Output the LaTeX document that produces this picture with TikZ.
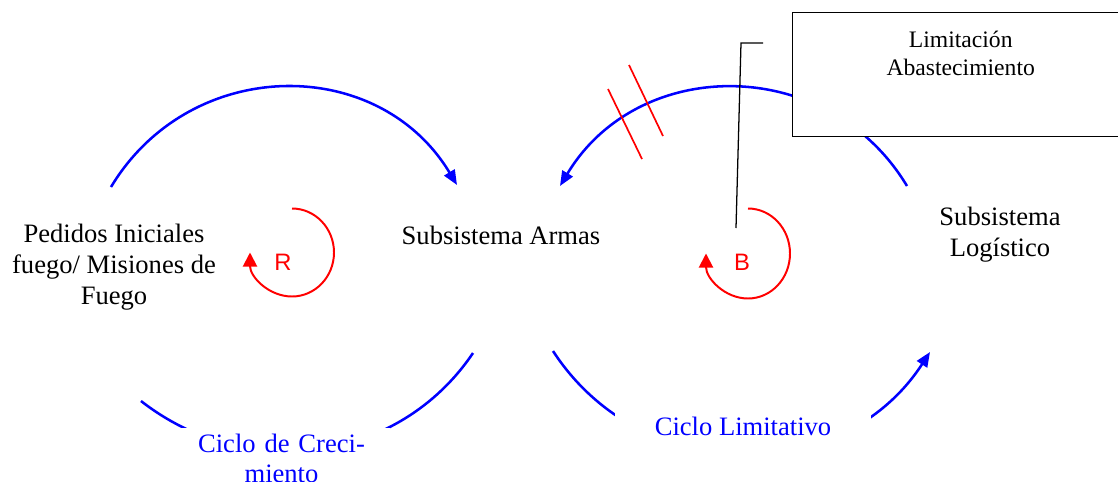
\documentclass[tikz,border=0pt]{standalone}
\usepackage{fontspec}
\setmainfont{Liberation Serif}
\newfontfamily\loopfont{Liberation Sans}
\usepackage{tikz}
\usetikzlibrary{arrows.meta}

\begin{document}
\begin{tikzpicture}[x=0.025cm, y=0.025cm,
    txt/.style={align=center, font=\fontsize{18.9}{22}\selectfont},
    link/.style={draw=blue, line width=1.8pt, -{Triangle[length=10.5pt, width=8.5pt]}},
    plainlink/.style={draw=blue, line width=1.8pt},
    loopline/.style={draw=red, line width=1.4pt, -{Triangle[length=10pt, width=10pt]}},
    looplbl/.style={text=red, font=\loopfont\fontsize{16.9}{20}\selectfont},
    cyclelbl/.style={fill=white, text=blue, font=\fontsize{18.9}{22}\selectfont, inner sep=2pt}]
        \useasboundingbox (0,0) rectangle (1118,-481);
        \node[txt] (ped) at (114,-267) {Pedidos Iniciales\\fuego/ Misiones de\\Fuego};
        \node[txt] (arm) at (501,-235) {Subsistema Armas};
        \node[txt] (log) at (1000,-235) {Subsistema\\Logístico};
        % ends of the links
        \coordinate (pedN) at (111,-187);
        \coordinate (armNW) at (457,-185);
        \coordinate (armNE) at (560,-186);
        \coordinate (logN) at (907,-186);
        \coordinate (armSW) at (473,-353);
        \coordinate (pedS) at (141,-401);
        \coordinate (armSE) at (553,-351);
        \coordinate (logS) at (930,-352);
        \draw[link] (pedN) to[out=59, in=121, looseness=1.13] (armNW);
        \draw[link] (logN) to[out=121, in=59, looseness=1.13] (armNE);
        \draw[plainlink] (armSW) to[out=-124, in=-38, looseness=1.02] (pedS);
        \draw[link] (armSE) to[out=-57, in=-123, looseness=1.1] (logS);
        % delay
        \draw[red, line width=1.2pt] (608,-89) -- (642,-159);
        \draw[red, line width=1.2pt] (629,-65) -- (663,-136);
        % callout
        \coordinate (calA) at (763,-43);
        \coordinate (calB) at (741,-43);
        \coordinate (calC) at (736,-228);
        \draw[line width=0.9pt] (calA) -- (calB) -- (calC);
        \node[draw, line width=1pt, fill=white, anchor=north west, inner sep=0pt,
            minimum width=8.4cm, minimum height=3.09cm,
            label={[anchor=north, yshift=-10pt, align=center, font=\fontsize{16.8}{19.9}\selectfont]north:Limitación\\Abastecimiento}] (lim) at (792,-12) {};
        % loops
        \node[looplbl] (R) at (283,-262) {R};
        \node[looplbl] (B) at (742,-262) {B};
        \coordinate (Rtop) at (292,-208.5);
        \coordinate (Btop) at (748,-208.5);
        \draw[loopline] (Rtop) arc[start angle=90, end angle=-180, x radius=42, y radius=44];
        \draw[loopline] (Btop) arc[start angle=90, end angle=-180, x radius=42, y radius=45];
        \node[cyclelbl, anchor=base, text width=5.3cm, align=center, text height=15pt] (crec) at (281.5,-452) {Ciclo de Creci-\\miento};
        \node[cyclelbl, anchor=base, minimum width=6.4cm, text height=15pt, text depth=20pt] (limt) at (743,-435) {Ciclo Limitativo};
\end{tikzpicture}
\end{document}
